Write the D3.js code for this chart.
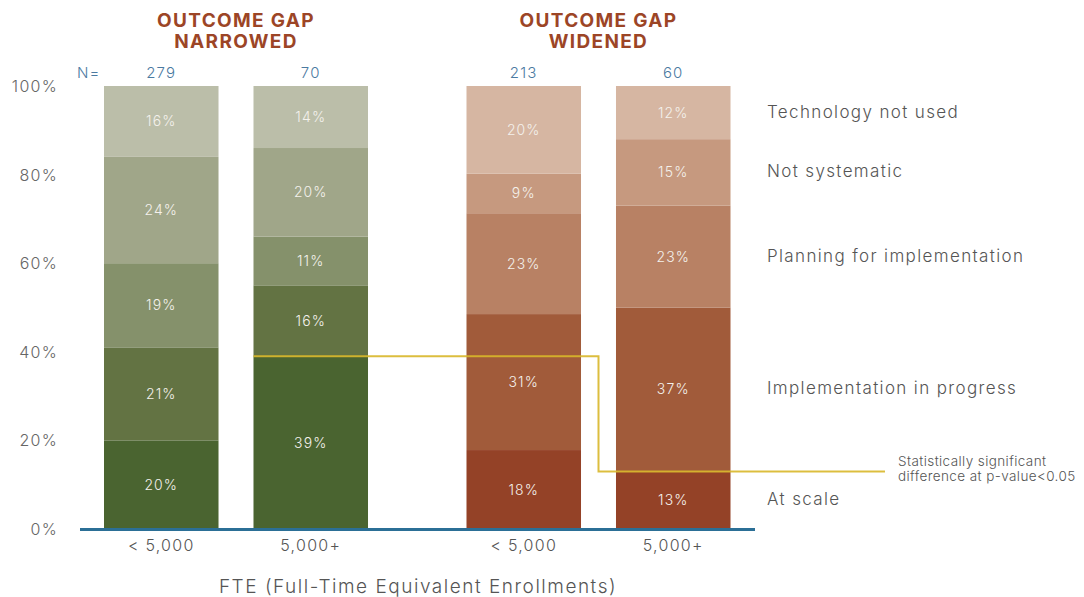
<html>
  <head>
    <script src="https://d3js.org/d3.v7.min.js"></script>
    <style>
      body { margin: 0; background: #fff; }
      text { font-family: Inter, "Open Sans", sans-serif; letter-spacing: 0.08em; }
    </style>
  </head>
  <body>
    <div id="chart"></div>
    <script>
      // data
      var groupTitles = [["OUTCOME GAP", "NARROWED"], ["OUTCOME GAP", "WIDENED"]];
      var sizes = ["< 5,000", "5,000+"];
      var levels = ["At scale", "Implementation in progress", "Planning for implementation", "Not systematic", "Technology not used"];
      var narrowedValues = [[20, 21, 19, 24, 16], [39, 16, 11, 20, 14]];
      var widenedValues = [[18, 31, 23, 9, 20], [13, 37, 23, 15, 12]];
      var counts = [[279, 70], [213, 60]];
      var yTicks = [0, 20, 40, 60, 80, 100];

      var greens = ["#4a6430", "#637343", "#85916b", "#a0a689", "#bbbea9"];
      var browns = ["#944227", "#a15b3a", "#b88164", "#c6997f", "#d6b6a2"];

      var width = 1084, height = 597;
      var svg = d3.select("#chart").append("svg")
        .attr("width", width).attr("height", height);

      var y = d3.scaleLinear().domain([0, 100]).range([529, 86]);
      var xGroup = d3.scaleBand().domain([0, 1]).range([104, 730.5]).paddingInner(0.2717);
      var xSize = d3.scaleBand().domain(sizes).range([0, xGroup.bandwidth()]).paddingInner(0.234);

      var allValues = [narrowedValues, widenedValues];
      var palettes = [greens, browns];

      // build stacked segments, normalised so every bar ends at 100%
      var segs = [];
      allValues.forEach(function(g, gi) {
        g.forEach(function(vals, si) {
          var total = d3.sum(vals), cum = 0;
          vals.forEach(function(v, li) {
            segs.push({ g: gi, s: si, level: li, value: v,
              y0: cum / total * 100, y1: (cum + v) / total * 100 });
            cum += v;
          });
        });
      });

      function barX(d) { return xGroup(d.g) + xSize(sizes[d.s]); }

      svg.selectAll("rect.seg").data(segs).enter().append("rect")
        .attr("class", "seg")
        .attr("x", barX)
        .attr("y", function(d) { return y(d.y1); })
        .attr("width", xSize.bandwidth())
        .attr("height", function(d) { return y(d.y0) - y(d.y1); })
        .attr("fill", function(d) { return palettes[d.g][d.level]; });

      svg.selectAll("text.val").data(segs).enter().append("text")
        .attr("class", "val")
        .attr("x", function(d) { return barX(d) + xSize.bandwidth() / 2; })
        .attr("y", function(d) { return (y(d.y0) + y(d.y1)) / 2 + 5; })
        .attr("text-anchor", "middle")
        .attr("fill", "#f4f1ec")
        .style("font-size", "14px").style("font-weight", 300)
        .text(function(d) { return d.value + "%"; });

      // y axis labels
      svg.selectAll("text.ytick").data(yTicks).enter().append("text")
        .attr("class", "ytick")
        .attr("x", 58).attr("y", function(d) { return y(d) + 6; })
        .attr("text-anchor", "end")
        .attr("fill", "#666")
        .style("font-size", "16px").style("font-weight", 300)
        .text(function(d) { return d + "%"; });

      // baseline
      svg.append("line")
        .attr("x1", 80).attr("x2", 755)
        .attr("y1", y(0) + 0.5).attr("y2", y(0) + 0.5)
        .attr("stroke", "#2b6f96").attr("stroke-width", 3);

      // x labels and N
      var bars = [];
      [0, 1].forEach(function(gi) { sizes.forEach(function(s, si) { bars.push({ g: gi, s: si }); }); });

      svg.selectAll("text.xlab").data(bars).enter().append("text")
        .attr("x", function(d) { return barX(d) + xSize.bandwidth() / 2; })
        .attr("y", 551).attr("text-anchor", "middle")
        .attr("fill", "#555").style("font-size", "16px").style("font-weight", 300)
        .text(function(d) { return sizes[d.s]; });

      svg.selectAll("text.nlab").data(bars).enter().append("text")
        .attr("x", function(d) { return barX(d) + xSize.bandwidth() / 2; })
        .attr("y", 78).attr("text-anchor", "middle")
        .attr("fill", "#4b7aa1").style("font-size", "15px").style("font-weight", 300)
        .text(function(d) { return counts[d.g][d.s]; });

      svg.append("text").attr("x", 77).attr("y", 78)
        .attr("fill", "#4b7aa1").style("font-size", "15px").style("font-weight", 300)
        .text("N=");

      // group titles
      groupTitles.forEach(function(lines, gi) {
        var t = svg.append("text")
          .attr("x", xGroup(gi) + xGroup.bandwidth() / 2)
          .attr("text-anchor", "middle")
          .attr("fill", "#9c4526")
          .style("font-size", "19px").style("font-weight", 700)
          .style("letter-spacing", "0.07em");
        lines.forEach(function(l, i) {
          t.append("tspan").attr("x", xGroup(gi) + xGroup.bandwidth() / 2)
            .attr("y", 27 + i * 21).text(l);
        });
      });

      // x axis title
      svg.append("text").attr("x", 418).attr("y", 593)
        .attr("text-anchor", "middle").attr("fill", "#555")
        .style("font-size", "19px").style("font-weight", 300)
        .text("FTE (Full-Time Equivalent Enrollments)");

      // legend, aligned with the last bar's segments
      var lastSegs = segs.filter(function(d) { return d.g === 1 && d.s === 1; });
      svg.selectAll("text.leg").data(lastSegs).enter().append("text")
        .attr("x", 767)
        .attr("y", function(d) { return (y(d.y0) + y(d.y1)) / 2 + 5; })
        .attr("fill", "#555").style("font-size", "17px").style("font-weight", 300)
        .text(function(d) { return levels[d.level]; });

      // significance annotation
      var a = segs.find(function(d) { return d.g === 0 && d.s === 1 && d.level === 0; });
      var b = segs.find(function(d) { return d.g === 1 && d.s === 1 && d.level === 0; });
      var midX = (xGroup(1) + xSize(sizes[0]) + xSize.bandwidth() + xGroup(1) + xSize(sizes[1])) / 2;
      svg.append("path")
        .attr("d", d3.line()([[barX(a), y(a.y1)], [midX, y(a.y1)], [midX, y(b.y1)], [885, y(b.y1)]]))
        .attr("fill", "none").attr("stroke", "#d8b72a").attr("stroke-width", 2)
        .attr("stroke-opacity", 0.9);

      var note = svg.append("text").attr("fill", "#555")
        .style("font-size", "13.5px").style("font-weight", 300)
        .style("letter-spacing", "0.03em");
      ["Statistically significant", "difference at p-value<0.05"].forEach(function(l, i) {
        note.append("tspan").attr("x", 898).attr("y", 466 + i * 15).text(l);
      });
    </script>
  </body>
</html>
